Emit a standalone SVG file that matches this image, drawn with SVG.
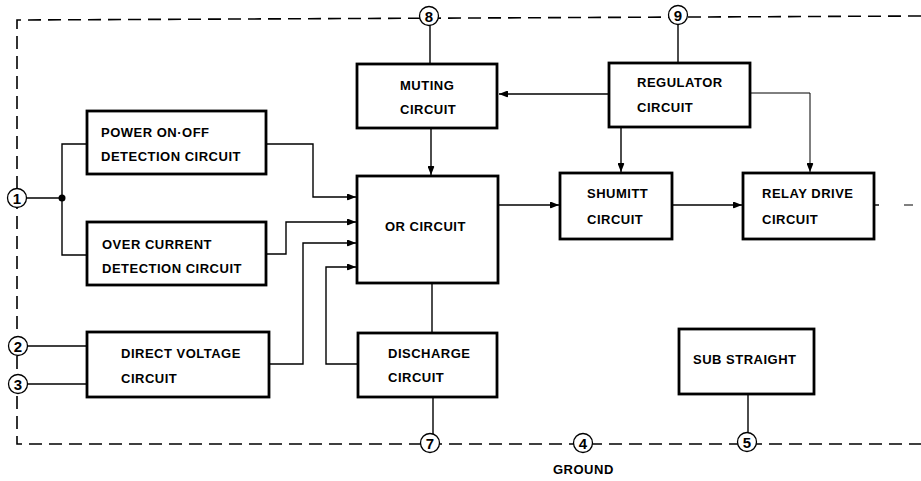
<svg xmlns="http://www.w3.org/2000/svg" width="921" height="481" viewBox="0 0 921 481">
<defs>
<style>
.box{fill:#fff;stroke:#000;stroke-width:2.8}
.t{font-family:"Liberation Sans",Arial,sans-serif;font-weight:bold;font-size:13px;letter-spacing:0.5px;fill:#000}
.pin{fill:#fff;stroke:#000;stroke-width:1.3}
.pn{font-family:"Liberation Sans",Arial,sans-serif;font-weight:bold;font-size:15px;fill:#000;text-anchor:middle}
.w{fill:none;stroke:#000;stroke-width:1.4}
.wt{fill:none;stroke:#000;stroke-width:1}
.dash{fill:none;stroke:#000;stroke-width:1.6;stroke-dasharray:13 7}
</style>
<marker id="ah" markerUnits="userSpaceOnUse" markerWidth="9" markerHeight="7" viewBox="0 0 9 7" refX="9" refY="3.5" orient="auto">
<path d="M0,1 Q0,0 1.5,0.5 L9,3.5 L1.5,6.5 Q0,7 0,6 z" fill="#000"/>
</marker>
</defs>
<rect width="921" height="481" fill="#fff"/>

<g id="border">
<path class="dash" d="M921,16 L17,20 L17,444 L921,444"/>
</g>

<g id="connectors">
<path class="w" d="M430,25 V64"/>
<path class="w" d="M678,25 V63"/>
<path class="w" d="M431,128 V175" marker-end="url(#ah)"/>
<path class="w" d="M609,94 H499" marker-end="url(#ah)"/>
<path class="w" d="M621,127 V172" marker-end="url(#ah)"/>
<path class="wt" d="M750,93 H810 V172" marker-end="url(#ah)"/>
<path class="w" d="M498,205 H559" marker-end="url(#ah)"/>
<path class="w" d="M672,205 H742" marker-end="url(#ah)"/>
<path class="w" d="M874,205 H879"/>
<path class="wt" d="M904,205 H913"/>
<path class="w" d="M27,198 H62"/>
<path class="w" d="M87,144 H62 V255 H87"/>
<circle cx="62" cy="198" r="3.5" fill="#000"/>
<path class="w" d="M266,144 H313 V197 H356" marker-end="url(#ah)"/>
<path class="w" d="M266,254 H286 V222 H356" marker-end="url(#ah)"/>
<path class="w" d="M269,364 H303 V243 H356" marker-end="url(#ah)"/>
<path class="w" d="M358,364 H326 V267 H356" marker-end="url(#ah)"/>
<path class="w" d="M432,283 V333"/>
<path class="w" d="M433,397 V434"/>
<path class="w" d="M28,346 H87"/>
<path class="w" d="M28,384 H87"/>
<path class="w" d="M748,394 V433"/>
</g>

<g id="muting">
<rect class="box" x="357" y="64" width="140" height="64"/>
<text class="t" x="400" y="90">MUTING</text>
<text class="t" x="400" y="114">CIRCUIT</text>
</g>
<g id="regulator">
<rect class="box" x="609" y="63" width="141" height="64"/>
<text class="t" x="637" y="87">REGULATOR</text>
<text class="t" x="637" y="112">CIRCUIT</text>
</g>
<g id="power">
<rect class="box" x="87" y="111" width="179" height="63"/>
<text class="t" x="101" y="137">POWER ON·OFF</text>
<text class="t" x="101" y="161">DETECTION CIRCUIT</text>
</g>
<g id="overcurrent">
<rect class="box" x="87" y="222" width="179" height="63"/>
<text class="t" x="102" y="249">OVER CURRENT</text>
<text class="t" x="102" y="273">DETECTION CIRCUIT</text>
</g>
<g id="or">
<rect class="box" x="357" y="176" width="141" height="107"/>
<text class="t" x="385" y="231">OR CIRCUIT</text>
</g>
<g id="shumitt">
<rect class="box" x="560" y="173" width="112" height="66"/>
<text class="t" x="587" y="198">SHUMITT</text>
<text class="t" x="587" y="224">CIRCUIT</text>
</g>
<g id="relay">
<rect class="box" x="743" y="173" width="131" height="66"/>
<text class="t" x="762" y="198">RELAY DRIVE</text>
<text class="t" x="762" y="224">CIRCUIT</text>
</g>
<g id="directvoltage">
<rect class="box" x="87" y="332" width="182" height="65"/>
<text class="t" x="121" y="358">DIRECT VOLTAGE</text>
<text class="t" x="121" y="383">CIRCUIT</text>
</g>
<g id="discharge">
<rect class="box" x="358" y="333" width="139" height="64"/>
<text class="t" x="388" y="358">DISCHARGE</text>
<text class="t" x="388" y="382">CIRCUIT</text>
</g>
<g id="substraight">
<rect class="box" x="679" y="329" width="135" height="65"/>
<text class="t" x="693" y="364">SUB STRAIGHT</text>
</g>

<g id="pin1"><circle class="pin" cx="17" cy="198" r="9.5"/><text class="pn" x="17" y="203.5">1</text></g>
<g id="pin2"><circle class="pin" cx="18" cy="346" r="9.5"/><text class="pn" x="18" y="351.5">2</text></g>
<g id="pin3"><circle class="pin" cx="18" cy="384" r="9.5"/><text class="pn" x="18" y="389.5">3</text></g>
<g id="pin4"><circle class="pin" cx="583" cy="443" r="9.5"/><text class="pn" x="583" y="448.5">4</text></g>
<g id="pin5"><circle class="pin" cx="747" cy="442" r="9.5"/><text class="pn" x="747" y="447.5">5</text></g>
<g id="pin7"><circle class="pin" cx="430" cy="443" r="9.5"/><text class="pn" x="430" y="448.5">7</text></g>
<g id="pin8"><circle class="pin" cx="429" cy="16" r="9.5"/><text class="pn" x="429" y="21.5">8</text></g>
<g id="pin9"><circle class="pin" cx="678" cy="15" r="9.5"/><text class="pn" x="678" y="20.5">9</text></g>
<text class="t" x="553" y="474">GROUND</text>
</svg>
